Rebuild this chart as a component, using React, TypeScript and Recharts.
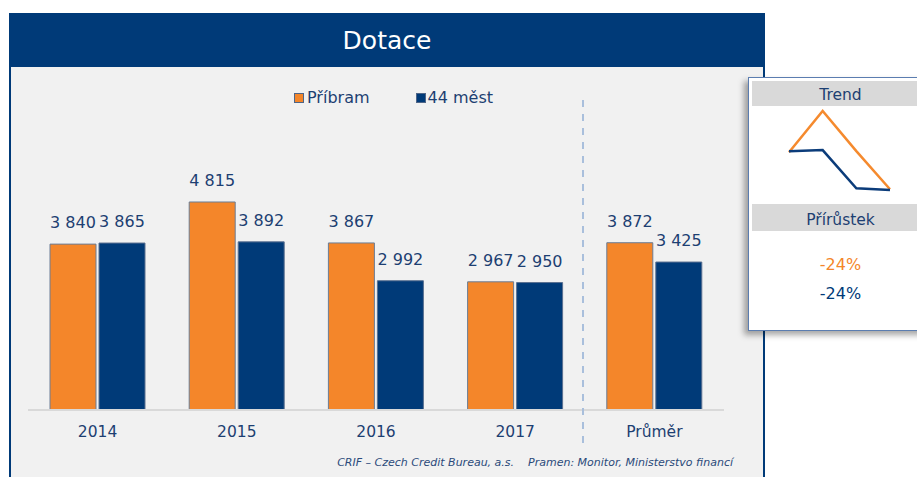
import { BarChart, Bar, XAxis, YAxis, LabelList, Legend, LineChart, Line } from "recharts";

const categories = ["2014", "2015", "2016", "2017", "Průměr"];
const pribram = [3840, 4815, 3867, 2967, 3872];
const mest = [3865, 3892, 2992, 2950, 3425];
const trendYears = ["2014", "2015", "2016", "2017"];
const growth = ["-24%", "-24%"];

const ORANGE = "#f4862a";
const NAVY = "#003a78";
const TEXT = "#1d3f72";
const FONT = "'DejaVu Sans', Verdana, sans-serif";

const barData = categories.map((c, i) => ({ name: c, pribram: pribram[i], mest: mest[i] }));
const trendData = trendYears.map((y, i) => ({ name: y, pribram: pribram[i], mest: mest[i] }));

const fmt = (v: number) => v.toLocaleString("en-US").replace(/,/g, " ");

function LegendBox() {
  const sq = (c: string) => (
    <span style={{ display: "inline-block", width: 8, height: 8, background: c, border: "1px solid #4f6587" }} />
  );
  return (
    <div style={{ display: "flex", alignItems: "center", fontSize: 16, color: TEXT, fontFamily: FONT, lineHeight: "20px", height: 20 }}>
      {sq(ORANGE)}
      <span style={{ marginLeft: 3 }}>Příbram</span>
      <span style={{ marginLeft: 46, display: "flex", alignItems: "center" }}>{sq(NAVY)}</span>
      <span style={{ marginLeft: 2 }}>44 měst</span>
    </div>
  );
}

export default function App() {
  return (
    <div style={{ position: "absolute", left: 0, top: 0, width: 917, height: 477, overflow: "hidden", background: "#fff", fontFamily: FONT }}>
      {/* main panel */}
      <div style={{ position: "absolute", left: 9, top: 13, width: 752, height: 480, background: "#f1f1f1", borderLeft: `2px solid ${NAVY}`, borderRight: `2px solid ${NAVY}` }}>
        <div style={{ height: 54, background: NAVY, color: "#fff", fontSize: 25, textAlign: "center", lineHeight: "56px" }}>Dotace</div>
      </div>

      <div style={{ position: "absolute", left: 0, top: 0 }}>
        <BarChart width={760} height={477} data={barData} margin={{ top: 174, right: 36, bottom: 37, left: 28 }} barSize={46} barGap={3}>
          <XAxis dataKey="name" height={30} tickLine={false} axisLine={{ stroke: "#d9d9d9", strokeWidth: 2 }} tick={{ fill: TEXT, fontSize: 15.5, fontFamily: FONT }} tickMargin={10} />
          <YAxis hide domain={[0, 5000]} />
          <Legend verticalAlign="top" height={20} content={() => <LegendBox />} wrapperStyle={{ left: 294, top: 88, width: "auto" }} />
          <Bar dataKey="pribram" fill={ORANGE} stroke="#6a7d96" strokeWidth={1} isAnimationActive={false}>
            <LabelList dataKey="pribram" position="top" offset={16} formatter={(v: number) => fmt(v)} style={{ fill: TEXT, fontSize: 16, fontFamily: FONT }} />
          </Bar>
          <Bar dataKey="mest" fill={NAVY} stroke="#5a7090" strokeWidth={1} isAnimationActive={false}>
            <LabelList dataKey="mest" position="top" offset={16} formatter={(v: number) => fmt(v)} style={{ fill: TEXT, fontSize: 16, fontFamily: FONT }} />
          </Bar>
        </BarChart>
      </div>

      {/* separator */}
      <svg style={{ position: "absolute", left: 580, top: 98 }} width={6} height={345}>
        <line x1={3} y1={2} x2={3} y2={345} stroke="#a9bfdc" strokeWidth={2} strokeDasharray="7 7" />
      </svg>

      <div style={{ position: "absolute", left: 0, top: 456, width: 733, textAlign: "right", fontSize: 11, fontStyle: "italic", color: "#2b4a7a", whiteSpace: "pre" }}>
        {"CRIF – Czech Credit Bureau, a.s.    Pramen: Monitor, Ministerstvo financí"}
      </div>

      {/* trend panel */}
      <div style={{ position: "absolute", left: 748, top: 77, width: 180, height: 252, background: "#fff", border: "1px solid #5b7db0", boxShadow: "-4px 4px 6px rgba(0,0,0,0.35)" }}>
        <div style={{ position: "absolute", left: 3, top: 3, right: 0, height: 25, background: "#d9d9d9", color: TEXT, fontSize: 15.5, textAlign: "center", lineHeight: "29px" }}>Trend</div>
        <div style={{ position: "absolute", left: 3, top: 126, right: 0, height: 27, background: "#d9d9d9", color: TEXT, fontSize: 15.5, textAlign: "center", lineHeight: "32px" }}>Přírůstek</div>
        <div style={{ position: "absolute", left: 3, right: 0, top: 176, textAlign: "center", fontSize: 16, color: ORANGE, lineHeight: "22px" }}>{growth[0]}</div>
        <div style={{ position: "absolute", left: 3, right: 0, top: 205, textAlign: "center", fontSize: 16, color: NAVY, lineHeight: "22px" }}>{growth[1]}</div>
      </div>
      <div style={{ position: "absolute", left: 780, top: 100 }}>
        <LineChart width={120} height={100} data={trendData} margin={{ top: 11, right: 10, bottom: 10, left: 9 }}>
          <XAxis dataKey="name" hide />
          <YAxis hide domain={["dataMin", "dataMax"]} />
          <Line dataKey="pribram" stroke="#f58a2e" strokeWidth={2.5} dot={false} isAnimationActive={false} />
          <Line dataKey="mest" stroke="#0b3c7a" strokeWidth={2.5} dot={false} isAnimationActive={false} />
        </LineChart>
      </div>
    </div>
  );
}
